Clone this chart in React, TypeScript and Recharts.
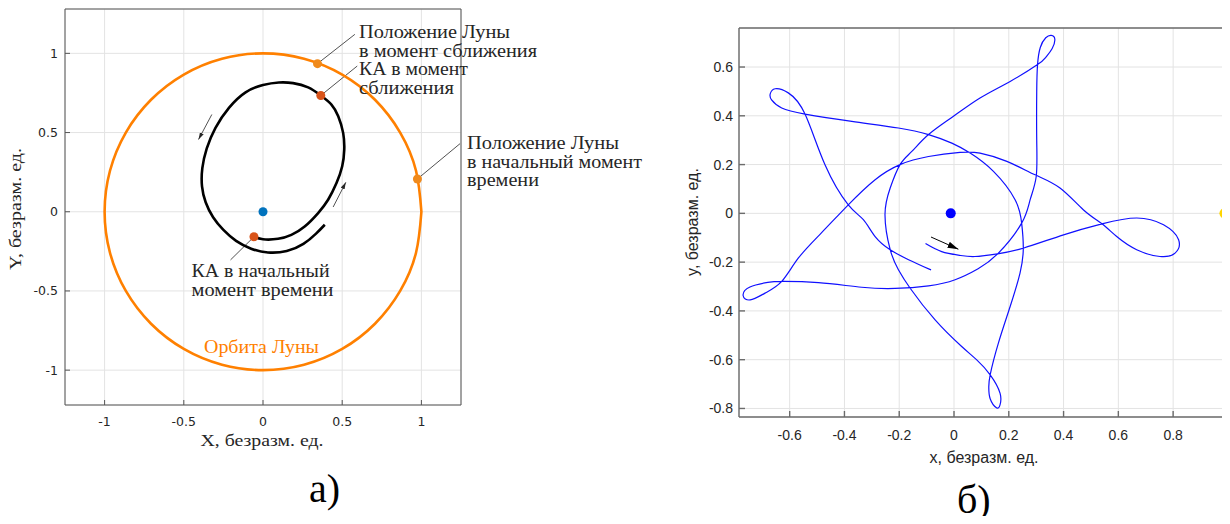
import { CartesianGrid, ReferenceDot, ReferenceLine, Scatter, ScatterChart, XAxis, YAxis } from 'recharts';

type Pt = [number, number];

// ---------- panel а): Earth–Moon plane, axis equal ----------
const moonOrbit: Pt[] = [
  [1, 0], [0.966, 0.259], [0.866, 0.5], [0.707, 0.707], [0.5, 0.866], [0.259, 0.966],
  [0, 1], [-0.259, 0.966], [-0.5, 0.866], [-0.707, 0.707], [-0.866, 0.5], [-0.966, 0.259],
  [-1, 0], [-0.966, -0.259], [-0.866, -0.5], [-0.707, -0.707], [-0.5, -0.866], [-0.259, -0.966],
  [0, -1], [0.259, -0.966], [0.5, -0.866], [0.707, -0.707], [0.866, -0.5], [0.966, -0.259], [1, 0],
];
const craftPath: Pt[] = [
  [-0.057, -0.158], [0.0, -0.174], [0.095, -0.171], [0.179, -0.146], [0.263, -0.093],
  [0.348, -0.008], [0.411, 0.076], [0.464, 0.181], [0.5, 0.287], [0.513, 0.392],
  [0.506, 0.498], [0.475, 0.603], [0.432, 0.677], [0.365, 0.734], [0.285, 0.785],
  [0.19, 0.812], [0.1, 0.816], [0.0, 0.8], [-0.11, 0.754], [-0.215, 0.656],
  [-0.3, 0.53], [-0.355, 0.4], [-0.383, 0.275], [-0.385, 0.16], [-0.362, 0.06],
  [-0.315, -0.035], [-0.25, -0.115], [-0.17, -0.184], [-0.075, -0.233], [0.031, -0.257],
  [0.15, -0.248], [0.255, -0.203], [0.335, -0.138], [0.39, -0.082],
];
const moonMarks: Pt[] = [[0.975, 0.207], [0.344, 0.935]];
const craftMarks: Pt[] = [[-0.057, -0.158], [0.365, 0.734]];
const earthA: Pt[] = [[0, 0]];
const arrowsA: [Pt, Pt][] = [
  [[-0.323, 0.614], [-0.407, 0.456]],
  [[0.443, 0.03], [0.523, 0.186]],
];
const leadersA: [Pt, Pt][] = [
  [[0.344, 0.935], [0.58, 1.12]],
  [[0.365, 0.734], [0.595, 0.92]],
  [[0.975, 0.207], [1.244, 0.43]],
  [[-0.057, -0.158], [-0.205, -0.304]],
];
const ticksA = [-1, -0.5, 0, 0.5, 1];

// ---------- panel б): rotating frame ----------
const scPath: Pt[] = [
  [-0.104, -0.124], [-0.045, -0.157], [0.02, -0.172], [0.076, -0.177], [0.159, -0.166],
  [0.255, -0.142], [0.4, -0.088], [0.54, -0.043], [0.667, -0.019], [0.765, -0.047],
  [0.82, -0.108], [0.807, -0.163], [0.752, -0.177], [0.667, -0.149], [0.594, -0.095],
  [0.54, -0.043], [0.472, 0.015], [0.387, 0.104], [0.296, 0.158], [0.193, 0.213],
  [0.095, 0.247], [0.022, 0.25], [-0.093, 0.233], [-0.197, 0.2], [-0.288, 0.138],
  [-0.386, 0.035], [-0.485, -0.081], [-0.568, -0.183], [-0.629, -0.279], [-0.69, -0.327],
  [-0.744, -0.355], [-0.77, -0.337], [-0.745, -0.302], [-0.68, -0.283], [-0.629, -0.279],
  [-0.495, -0.284], [-0.337, -0.303], [-0.215, -0.308], [-0.093, -0.297], [0.004, -0.272],
  [0.088, -0.227], [0.162, -0.163], [0.247, -0.04], [0.278, 0.056], [0.3, 0.15],
  [0.302, 0.3], [0.302, 0.5], [0.305, 0.61], [0.315, 0.68], [0.335, 0.72],
  [0.355, 0.73], [0.368, 0.715], [0.358, 0.675], [0.335, 0.64], [0.305, 0.61],
  [0.205, 0.541], [0.095, 0.473], [-0.002, 0.398], [-0.093, 0.323], [-0.154, 0.254],
  [-0.197, 0.2], [-0.233, 0.104], [-0.252, -0.006], [-0.233, -0.149], [-0.203, -0.231],
  [-0.16, -0.307], [-0.069, -0.437], [0.028, -0.546], [0.083, -0.601], [0.132, -0.662],
  [0.168, -0.737], [0.168, -0.785], [0.155, -0.797], [0.132, -0.76], [0.127, -0.714],
  [0.132, -0.662], [0.162, -0.532], [0.205, -0.382], [0.241, -0.245], [0.253, -0.143],
  [0.247, -0.04], [0.223, 0.056], [0.144, 0.172], [0.059, 0.247], [-0.008, 0.288],
  [-0.093, 0.323], [-0.203, 0.35], [-0.373, 0.377], [-0.544, 0.407], [-0.629, 0.432],
  [-0.666, 0.465], [-0.671, 0.49], [-0.653, 0.511], [-0.605, 0.494], [-0.544, 0.407],
  [-0.471, 0.199], [-0.386, 0.035], [-0.331, -0.026], [-0.288, -0.095], [-0.233, -0.149],
  [-0.166, -0.19], [-0.084, -0.232],
];
const earthB: Pt[] = [[-0.012, 0]];
const moonB: Pt[] = [[0.988, 0]];
const arrowB: [Pt, Pt] = [[-0.084, -0.097], [0.016, -0.147]];
const xTicksB = [-0.6, -0.4, -0.2, 0, 0.2, 0.4, 0.6, 0.8, 1];
const yTicksB = [-0.8, -0.6, -0.4, -0.2, 0, 0.2, 0.4, 0.6];

const xy = (pts: Pt[]) => pts.map(([x, y]) => ({ x, y }));
const seg = ([a, b]: [Pt, Pt]) => [{ x: a[0], y: a[1] }, { x: b[0], y: b[1] }];
const noDot = () => <g />;
const disc = (r: number, fill: string) => (p: any) => <circle cx={p.cx} cy={p.cy} r={r} fill={fill} />;

const serif = '"Liberation Serif", "Times New Roman", serif';
const sans = '"Liberation Sans", Arial, sans-serif';
const ink = '#262626';

function Note({ x, y, w, children, fill = ink, size = 18 }: any) {
  return (
    <text x={x} y={y} textLength={w} lengthAdjust="spacingAndGlyphs" fontFamily={serif} fontSize={size} fill={fill}>
      {children}
    </text>
  );
}

function PanelA() {
  const axis = { type: 'number' as const, stroke: '#555', tickSize: -5 };
  const tick = { fontSize: 12.5, fill: ink, fontFamily: '"DejaVu Sans", sans-serif' };
  return (
    <ScatterChart width={470} height={435} margin={{ top: 8, right: 8, bottom: 0, left: 0 }}>
      <CartesianGrid stroke="#e3e3e3" />
      <XAxis {...axis} dataKey="x" domain={[-1.25, 1.25]} ticks={ticksA} height={30} tickMargin={17} tick={tick} interval={0} />
      <XAxis {...axis} xAxisId="top" orientation="top" dataKey="x" domain={[-1.25, 1.25]} ticks={ticksA} height={1} tick={false} />
      <YAxis {...axis} dataKey="y" domain={[-1.22, 1.28]} ticks={ticksA} width={65} tickMargin={12} tick={tick} interval={0} />
      <YAxis {...axis} yAxisId="right" orientation="right" dataKey="y" domain={[-1.22, 1.28]} ticks={ticksA} width={1} tick={false} />
      <Scatter data={xy(moonOrbit)} line={{ stroke: '#ff8000', strokeWidth: 2.6 }} lineJointType="natural" shape={noDot} isAnimationActive={false} />
      <Scatter data={xy(craftPath)} line={{ stroke: '#000', strokeWidth: 2.6 }} lineJointType="natural" shape={noDot} isAnimationActive={false} />
      {leadersA.map((l, i) => (
        <ReferenceLine key={i} segment={seg(l)} stroke={ink} strokeWidth={0.8} ifOverflow="visible" />
      ))}
      {arrowsA.map((l, i) => (
        <ReferenceLine key={'a' + i} segment={seg(l)} stroke={ink} strokeWidth={0.8} markerEnd="url(#headSmall)" />
      ))}
      <Scatter data={xy(moonMarks)} shape={disc(4.5, '#f08a1c')} isAnimationActive={false} />
      <Scatter data={xy(craftMarks)} shape={disc(4.5, '#d95319')} isAnimationActive={false} />
      <Scatter data={xy(earthA)} shape={disc(4.5, '#0072bd')} isAnimationActive={false} />
    </ScatterChart>
  );
}

function PanelB() {
  const axis = { type: 'number' as const, stroke: '#6b6b6b', strokeWidth: 1.4, tickSize: -6 };
  const tick = { fontSize: 14, fill: ink, fontFamily: sans };
  return (
    <ScatterChart width={570} height={447} margin={{ top: 27, right: 20, bottom: 0, left: 0 }}>
      <CartesianGrid stroke="#e3e3e3" />
      <XAxis {...axis} dataKey="x" domain={[-0.785, 1.004]} ticks={xTicksB} height={30} tickMargin={19} tick={tick} interval={0} />
      <XAxis {...axis} xAxisId="top" orientation="top" dataKey="x" domain={[-0.785, 1.004]} ticks={xTicksB} height={1} tick={false} />
      <YAxis {...axis} dataKey="y" domain={[-0.835, 0.76]} ticks={yTicksB} width={59} tickMargin={12} tick={tick} interval={0} />
      <YAxis {...axis} yAxisId="right" orientation="right" dataKey="y" domain={[-0.835, 0.76]} ticks={yTicksB} width={1} tick={false} />
      <Scatter data={xy(scPath)} line={{ stroke: '#1010ff', strokeWidth: 1.2 }} lineJointType="natural" shape={noDot} isAnimationActive={false} />
      <ReferenceLine segment={seg(arrowB)} stroke="#000" strokeWidth={1} markerEnd="url(#headBig)" />
      <Scatter data={xy(earthB)} shape={disc(5, '#0000ff')} isAnimationActive={false} />
      {moonB.map(([x, y], i) => (
        <ReferenceDot key={i} x={x} y={y} r={5.2} fill="#ffd500" stroke="none" ifOverflow="visible" />
      ))}
    </ScatterChart>
  );
}

export default function App() {
  return (
    <div style={{ position: 'relative', width: 1230, height: 524, margin: -8, overflow: 'hidden', background: '#fff' }}>
      <div style={{ position: 'absolute', left: 0, top: 0 }}>
        <PanelA />
      </div>
      <div style={{ position: 'absolute', left: 680, top: 0 }}>
        <PanelB />
      </div>
      <svg width={1230} height={524} style={{ position: 'absolute', left: 0, top: 0, pointerEvents: 'none' }}>
        <defs>
          <marker id="headSmall" viewBox="0 0 10 6" refX="10" refY="3" markerWidth="7" markerHeight="4.5" markerUnits="userSpaceOnUse" orient="auto">
            <path d="M0,0 L10,3 L0,6 z" fill={ink} />
          </marker>
          <marker id="headBig" viewBox="0 0 10 6" refX="10" refY="3" markerWidth="11" markerHeight="6.5" markerUnits="userSpaceOnUse" orient="auto">
            <path d="M0,0 L10,3 L0,6 z" fill="#000" />
          </marker>
        </defs>

        <Note x={359} y={38} w={151}>Положение Луны</Note>
        <Note x={359} y={56.5} w={178}>в момент сближения</Note>
        <Note x={359} y={75} w={109}>КА в момент</Note>
        <Note x={359} y={93.5} w={95}>сближения</Note>
        <Note x={467} y={149} w={152}>Положение Луны</Note>
        <Note x={467} y={167.5} w={175}>в начальный момент</Note>
        <Note x={467} y={186} w={72}>времени</Note>
        <Note x={191.5} y={277} w={138}>КА в начальный</Note>
        <Note x={191.5} y={295.5} w={142}>момент времени</Note>
        <Note x={204} y={353} w={115} fill="#ff8000">Орбита Луны</Note>

        <text x={262} y={446} textAnchor="middle" textLength={123} lengthAdjust="spacingAndGlyphs" fontFamily={serif} fontSize={17} fill={ink}>
          X, безразм. ед.
        </text>
        <text transform="translate(21,209) rotate(-90)" textAnchor="middle" textLength={122} lengthAdjust="spacingAndGlyphs" fontFamily={serif} fontSize={17} fill={ink}>
          Y, безразм. ед.
        </text>

        <text x={984} y={463} textAnchor="middle" fontFamily={sans} fontSize={16} fill={ink}>
          x, безразм. ед.
        </text>
        <text transform="translate(698,222) rotate(-90)" textAnchor="middle" fontFamily={sans} fontSize={16} fill={ink}>
          y, безразм. ед.
        </text>

        <text x={309} y={502} fontFamily={serif} fontSize={40} fill="#000">а)</text>
        <text x={957} y={513} fontFamily={serif} fontSize={40} fill="#000">б)</text>
      </svg>
    </div>
  );
}
